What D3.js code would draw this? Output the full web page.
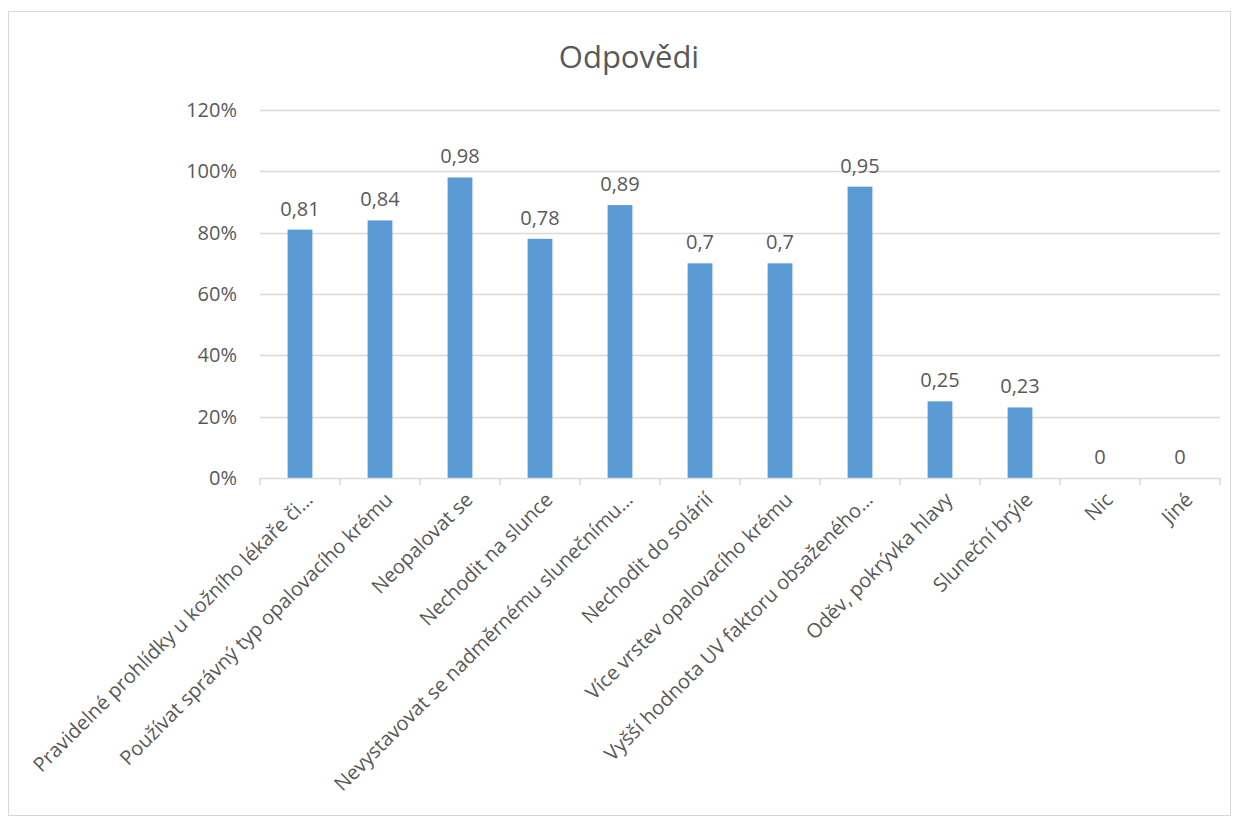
<!DOCTYPE html>
<html>
<head>
<meta charset="utf-8">
<script src="https://cdn.jsdelivr.net/npm/d3@7"></script>
<style>
  body { margin: 0; background: #fff; }
  svg text { font-family: "Open Sans", "Noto Sans", sans-serif; fill: #595959; }
</style>
</head>
<body>
<div id="chart"></div>
<script>
const categories = [
  "Pravidelné prohlídky u kožního lékaře či…",
  "Používat správný typ opalovacího krému",
  "Neopalovat se",
  "Nechodit na slunce",
  "Nevystavovat se nadměrnému slunečnímu…",
  "Nechodit do solárií",
  "Více vrstev opalovacího krému",
  "Vyšší hodnota UV faktoru obsaženého…",
  "Oděv, pokrývka hlavy",
  "Sluneční brýle",
  "Nic",
  "Jiné"
];
const values = [0.81, 0.84, 0.98, 0.78, 0.89, 0.7, 0.7, 0.95, 0.25, 0.23, 0, 0];
const yTicks = [0, 0.2, 0.4, 0.6, 0.8, 1.0, 1.2];
const title = "Odpovědi";

const width = 1239, height = 817;
const margin = { top: 110, right: 19, bottom: 339, left: 260 };

const svg = d3.select("#chart").append("svg")
  .attr("width", width)
  .attr("height", height);

// chart border
svg.append("rect")
  .attr("x", 8.5).attr("y", 11.5)
  .attr("width", 1222).attr("height", 804)
  .attr("fill", "none")
  .attr("stroke", "#d9d9d9");

svg.append("text")
  .attr("x", 629).attr("y", 68)
  .attr("text-anchor", "middle")
  .attr("font-size", "31px")
  .text(title);

const x = d3.scaleBand()
  .domain(categories)
  .range([margin.left, width - margin.right])
  .paddingInner(0.69)
  .paddingOuter(0.345);

const y = d3.scaleLinear()
  .domain([0, 1.2])
  .range([height - margin.bottom, margin.top]);

// gridlines
svg.append("g")
  .selectAll("line")
  .data(yTicks.slice(1))
  .join("line")
  .attr("x1", margin.left).attr("x2", width - margin.right)
  .attr("y1", d => Math.round(y(d)) + 0.5).attr("y2", d => Math.round(y(d)) + 0.5)
  .attr("stroke", "#d9d9d9")
  .attr("stroke-width", 1.5);

// y axis labels
const yAxis = d3.axisLeft(y)
  .tickValues(yTicks)
  .tickFormat(d => Math.round(d * 100) + "%")
  .tickSize(0)
  .tickPadding(23);

svg.append("g")
  .attr("transform", `translate(${margin.left},0)`)
  .call(yAxis)
  .call(g => g.select(".domain").remove())
  .call(g => g.selectAll("text").attr("font-size", "20px").attr("fill", "#595959").style("font-family", '"Open Sans", sans-serif'));

// bars
svg.append("g")
  .selectAll("rect")
  .data(values)
  .join("rect")
  .attr("x", (d, i) => x(categories[i]))
  .attr("y", d => y(d))
  .attr("width", x.bandwidth())
  .attr("height", d => y(0) - y(d))
  .attr("fill", "#5b9bd5");

// data labels
svg.append("g")
  .selectAll("text")
  .data(values)
  .join("text")
  .attr("x", (d, i) => x(categories[i]) + x.bandwidth() / 2)
  .attr("y", d => y(d) - 14)
  .attr("text-anchor", "middle")
  .attr("font-size", "20px")
  .attr("fill", "#404040")
  .text(d => String(d).replace(".", ","));

// x axis line + ticks
const step = x.step();
const boundaries = d3.range(categories.length + 1).map(i => margin.left + i * step);
const axisG = svg.append("g");
axisG.append("line")
  .attr("x1", margin.left).attr("x2", width - margin.right)
  .attr("y1", y(0) + 0.5).attr("y2", y(0) + 0.5)
  .attr("stroke", "#d9d9d9").attr("stroke-width", 1.5);
axisG.selectAll("line.tick")
  .data(boundaries)
  .join("line")
  .attr("class", "tick")
  .attr("x1", d => d).attr("x2", d => d)
  .attr("y1", y(0)).attr("y2", y(0) + 7)
  .attr("stroke", "#d9d9d9").attr("stroke-width", 1.5);

// category labels
svg.append("g")
  .selectAll("text")
  .data(categories)
  .join("text")
  .attr("transform", d => `translate(${x(d) + x.bandwidth() / 2 + 9},${y(0) + 18}) rotate(-45)`)
  .attr("text-anchor", "end")
  .attr("dy", "0.35em")
  .attr("font-size", "20px")
  .text(d => d);
</script>
</body>
</html>
